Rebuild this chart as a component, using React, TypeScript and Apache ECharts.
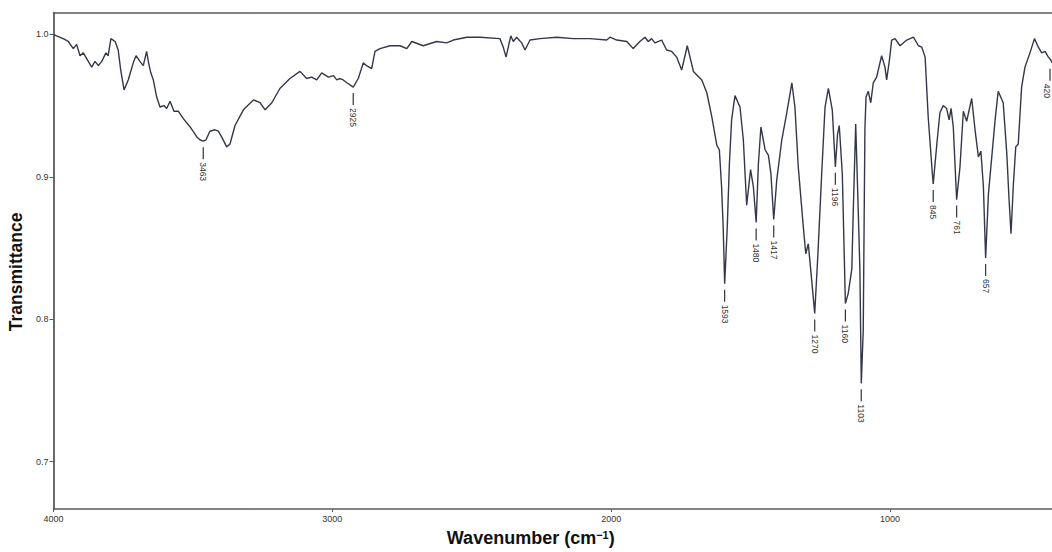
import React, { useEffect, useRef } from "react";
import * as echarts from "echarts";

// Wavenumber (cm-1) and transmittance, high to low wavenumber
const wavenumbers = [
  4000, 3989, 3965, 3947, 3929, 3917, 3905, 3893, 3881, 3863, 3851, 3839, 3827, 3812, 3804, 3794, 3779, 3768, 3759, 3747,
  3732, 3714, 3704, 3690, 3678, 3666, 3659, 3651, 3642, 3630, 3618, 3604, 3594, 3582, 3568, 3552, 3535, 3510, 3486, 3475,
  3463, 3453, 3439, 3421, 3409, 3397, 3379, 3367, 3349, 3319, 3283, 3259, 3241, 3217, 3188, 3152, 3116, 3092, 3074, 3056,
  3038, 3014, 2996, 2984, 2972, 2961, 2948, 2925, 2907, 2889, 2877, 2859, 2847, 2829, 2793, 2757, 2733, 2715, 2674, 2626,
  2590, 2566, 2518, 2470, 2399, 2387, 2377, 2369, 2360, 2351, 2339, 2321, 2309, 2291, 2255, 2195, 2136, 2076, 2016, 2004,
  1980, 1944, 1921, 1897, 1879, 1867, 1855, 1843, 1819, 1801, 1783, 1765, 1747, 1727, 1705, 1675, 1657, 1639, 1621, 1612,
  1604, 1598, 1593, 1584, 1576, 1568, 1556, 1538, 1526, 1514, 1500, 1490, 1480, 1472, 1463, 1448, 1436, 1427, 1417, 1406,
  1388, 1370, 1352, 1341, 1329, 1311, 1302, 1293, 1283, 1270, 1259, 1245, 1233, 1221, 1207, 1196, 1188, 1182, 1171, 1160,
  1150, 1137, 1132, 1123, 1114, 1108, 1103, 1096, 1093, 1090, 1086, 1078, 1069, 1060, 1048, 1030, 1018, 1012, 1002, 994,
  982, 964, 940, 916, 898, 886, 874, 863, 848, 845, 832, 821, 809, 797, 788, 781, 773, 761, 749, 737,
  725, 707, 695, 683, 674, 665, 657, 647, 635, 623, 612, 594, 581, 573, 566, 558, 549, 540, 528, 516,
  498, 482, 468, 456, 444, 432, 423, 419,
];
const transmittance = [
  1.0, 0.999, 0.997, 0.995, 0.99, 0.993, 0.985, 0.987, 0.983, 0.977, 0.981, 0.978, 0.981, 0.987, 0.985, 0.997, 0.995, 0.989, 0.975, 0.961,
  0.968, 0.98, 0.985, 0.981, 0.978, 0.988, 0.98, 0.973, 0.968, 0.956, 0.949, 0.95, 0.948, 0.953, 0.946, 0.946, 0.941, 0.935, 0.928, 0.926,
  0.925, 0.926, 0.932, 0.933, 0.932, 0.928, 0.921, 0.923, 0.936, 0.947, 0.954, 0.952, 0.947, 0.952, 0.962, 0.969, 0.974, 0.969, 0.97, 0.968,
  0.973, 0.97, 0.971, 0.968, 0.969, 0.968, 0.966, 0.963, 0.969, 0.98, 0.978, 0.976, 0.988, 0.99, 0.992, 0.992, 0.99, 0.995, 0.992, 0.995,
  0.994, 0.996, 0.998, 0.998, 0.997, 0.991, 0.984, 0.991, 0.999, 0.995, 0.998, 0.994, 0.989, 0.996, 0.997, 0.998, 0.997, 0.997, 0.996, 0.998,
  0.996, 0.995, 0.99, 0.995, 0.998, 0.995, 0.997, 0.994, 0.996, 0.989, 0.988, 0.984, 0.975, 0.992, 0.974, 0.968, 0.959, 0.942, 0.922, 0.919,
  0.893, 0.863, 0.825, 0.863, 0.909, 0.94, 0.957, 0.949, 0.926, 0.88, 0.905, 0.893, 0.868, 0.909, 0.935, 0.919, 0.915, 0.902, 0.87, 0.898,
  0.926, 0.945, 0.966, 0.949, 0.907, 0.865, 0.846, 0.853, 0.832, 0.804, 0.844, 0.902, 0.949, 0.962, 0.947, 0.907, 0.93, 0.936, 0.902, 0.811,
  0.818, 0.835, 0.874, 0.937, 0.877, 0.835, 0.755, 0.792, 0.863, 0.933, 0.956, 0.96, 0.952, 0.966, 0.97, 0.985, 0.977, 0.968, 0.982, 0.996,
  0.997, 0.992, 0.996, 0.998, 0.992, 0.991, 0.984, 0.942, 0.902, 0.895, 0.923, 0.945, 0.95, 0.948, 0.94, 0.948, 0.935, 0.884, 0.907, 0.946,
  0.939, 0.955, 0.933, 0.914, 0.918, 0.893, 0.843, 0.888, 0.914, 0.94, 0.96, 0.952, 0.916, 0.884, 0.86, 0.893, 0.921, 0.923, 0.963, 0.977,
  0.987, 0.997, 0.991, 0.987, 0.988, 0.984, 0.982, 0.98,
];

// Labelled peaks
const peakWavenumbers = [3463, 2925, 1593, 1480, 1417, 1270, 1196, 1160, 1103, 845, 761, 657, 420];
const peakTransmittance = [0.925, 0.963, 0.825, 0.868, 0.87, 0.804, 0.907, 0.811, 0.755, 0.895, 0.884, 0.843, 0.98];

const xTicks = [1000, 2000, 3000, 4000];
const yTicks = [0.7, 0.8, 0.9, 1.0];

const X_MIN = 419;
const X_MAX = 4000;
const Y_MIN = 0.6668;
const Y_MAX = 1.0152;

export default function App() {
  const ref = useRef<HTMLDivElement>(null);

  useEffect(() => {
    if (!ref.current) return;
    const chart = echarts.init(ref.current, undefined, { renderer: "svg" });
    const spectrum = wavenumbers.map((w, i) => [w, transmittance[i]]);
    const peaks = peakWavenumbers.map((w, i) => [w, peakTransmittance[i]]);
    const axisColor = "#5a5a5a";
    const textColor = "#333";

    chart.setOption({
      animation: false,
      backgroundColor: "#fff",
      grid: { left: 53.5, right: 0, top: 12.7, bottom: 43, outerBoundsMode: "none" },
      xAxis: [
        {
          type: "value",
          min: X_MIN,
          max: X_MAX,
          inverse: true,
          position: "bottom",
          splitLine: { show: false },
          axisLine: { show: true, lineStyle: { color: axisColor, width: 1.6 } },
          axisTick: { show: true, length: 3, customValues: xTicks, lineStyle: { color: axisColor } },
          axisLabel: {
            customValues: xTicks,
            margin: 5,
            fontSize: 9,
            color: textColor,
            fontFamily: "Liberation Sans",
            formatter: (v: number) => String(Math.round(v)),
          },
          name: "Wavenumber (cm{sup|\u22121})",
          nameLocation: "middle",
          nameGap: 20,
          nameTextStyle: {
            fontSize: 18,
            fontWeight: "bold",
            color: "#111",
            fontFamily: "Liberation Sans",
            padding: [0, 44, 0, 0],
            rich: {
              sup: {
                fontSize: 11,
                fontWeight: "bold",
                color: "#111",
                fontFamily: "Liberation Sans",
                verticalAlign: "top",
              },
            },
          },
        },
        {
          type: "value",
          min: X_MIN,
          max: X_MAX,
          inverse: true,
          position: "top",
          splitLine: { show: false },
          axisLine: { show: true, lineStyle: { color: axisColor, width: 1.6 } },
          axisTick: { show: false },
          axisLabel: { show: false },
        },
      ],
      yAxis: {
        type: "value",
        min: Y_MIN,
        max: Y_MAX,
        splitLine: { show: false },
        axisLine: { show: true, lineStyle: { color: axisColor, width: 1.8 } },
        axisTick: { show: true, length: 4, customValues: yTicks, lineStyle: { color: axisColor } },
        axisLabel: {
          customValues: yTicks,
          margin: 5,
          fontSize: 9,
          color: textColor,
          fontFamily: "Liberation Sans",
          formatter: (v: number) => v.toFixed(1),
        },
        name: "Transmittance",
        nameLocation: "middle",
        nameGap: 25,
        nameTextStyle: {
          fontSize: 17.5,
          fontWeight: "bold",
          color: "#111",
          fontFamily: "Liberation Sans",
          padding: [0, 22, 0, 0],
        },
      },
      series: [
        {
          type: "line",
          data: spectrum,
          showSymbol: false,
          symbol: "none",
          lineStyle: { color: "#34374a", width: 1.4 },
          clip: true,
        },
        {
          type: "custom",
          data: peaks,
          clip: false,
          renderItem: (params: any, api: any) => {
            const w = api.value(0);
            const t = api.value(1);
            const p = api.coord([w, t]);
            const maxX = api.getWidth() - 5;
            const lineX = Math.min(p[0], api.getWidth() - 2);
            const textX = Math.min(p[0], maxX);
            const y0 = p[1] + 6;
            const y1 = y0 + 12;
            return {
              type: "group",
              children: [
                {
                  type: "line",
                  shape: { x1: lineX, y1: y0, x2: lineX, y2: y1 },
                  style: { stroke: "#333", lineWidth: 1.2 },
                },
                {
                  type: "text",
                  x: textX,
                  y: y1 + 3,
                  rotation: -Math.PI / 2,
                  style: {
                    text: String(peakWavenumbers[params.dataIndex]),
                    fontSize: 8.5,
                    fill: "#333",
                    fontFamily: "Liberation Sans",
                    align: "left",
                    verticalAlign: "middle",
                  },
                },
              ],
            };
          },
        },
      ],
    });

    return () => chart.dispose();
  }, []);

  return (
    <div
      ref={ref}
      style={{ position: "absolute", left: 0, top: 0, width: 1052, height: 552, background: "#fff" }}
    />
  );
}
